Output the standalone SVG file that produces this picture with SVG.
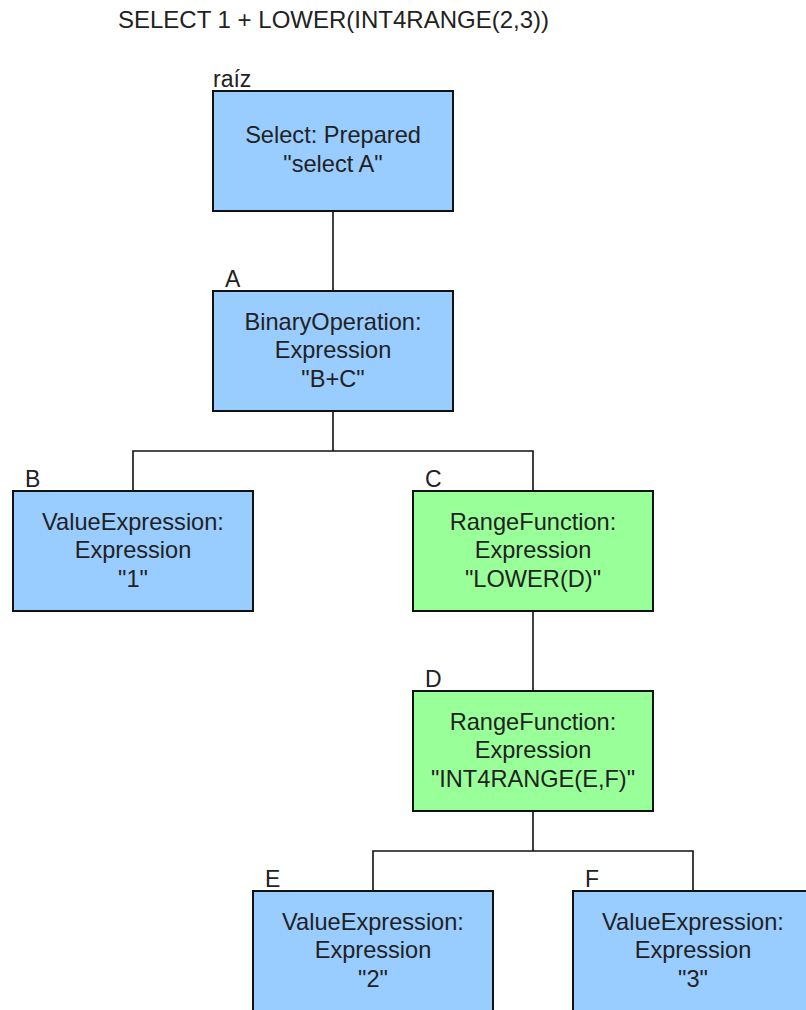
<svg xmlns="http://www.w3.org/2000/svg" width="806" height="1010" viewBox="0 0 806 1010">
<style>
text{font-family:"Liberation Sans",Arial,sans-serif;fill:#222}
.box{stroke:#111;stroke-width:2}
.blue{fill:#99CCFF}
.green{fill:#99FF99}
.t{font-size:23.6px;text-anchor:middle}
.lbl{font-size:23px}
.title{font-size:24px}
.conn{fill:none;stroke:#111;stroke-width:1.6}
</style>
<rect width="806" height="1010" fill="#fff"/>
<text class="title" x="118" y="28">SELECT 1 + LOWER(INT4RANGE(2,3))</text>
<g id="connectors">
<path class="conn" d="M333 211V291"/>
<path class="conn" d="M333 411V451H133V491M333 451H533V491"/>
<path class="conn" d="M533 611V691"/>
<path class="conn" d="M533 811V851H373V891M533 851H693V891"/>
</g>
<g id="root">
<rect class="box blue" x="213" y="91" width="240" height="120"/>
<text class="lbl" x="213" y="87">raíz</text>
<text class="t" x="333" y="143">Select: Prepared</text>
<text class="t" x="333" y="172">"select A"</text>
</g>
<g id="A">
<rect class="box blue" x="213" y="291" width="240" height="120"/>
<text class="lbl" x="225" y="287">A</text>
<text class="t" x="333" y="330">BinaryOperation:</text>
<text class="t" x="333" y="358">Expression</text>
<text class="t" x="333" y="387">"B+C"</text>
</g>
<g id="B">
<rect class="box blue" x="13" y="491" width="240" height="120"/>
<text class="lbl" x="25" y="487">B</text>
<text class="t" x="133" y="530">ValueExpression:</text>
<text class="t" x="133" y="558">Expression</text>
<text class="t" x="133" y="587">"1"</text>
</g>
<g id="C">
<rect class="box green" x="413" y="491" width="240" height="120"/>
<text class="lbl" x="425" y="487">C</text>
<text class="t" x="533" y="530">RangeFunction:</text>
<text class="t" x="533" y="558">Expression</text>
<text class="t" x="533" y="587">"LOWER(D)"</text>
</g>
<g id="D">
<rect class="box green" x="413" y="691" width="240" height="120"/>
<text class="lbl" x="425" y="687">D</text>
<text class="t" x="533" y="730">RangeFunction:</text>
<text class="t" x="533" y="758">Expression</text>
<text class="t" x="533" y="787">"INT4RANGE(E,F)"</text>
</g>
<g id="E">
<rect class="box blue" x="253" y="891" width="240" height="130"/>
<text class="lbl" x="265" y="887">E</text>
<text class="t" x="373" y="930">ValueExpression:</text>
<text class="t" x="373" y="958">Expression</text>
<text class="t" x="373" y="987">"2"</text>
</g>
<g id="F">
<rect class="box blue" x="573" y="891" width="240" height="130"/>
<text class="lbl" x="585" y="887">F</text>
<text class="t" x="693" y="930">ValueExpression:</text>
<text class="t" x="693" y="958">Expression</text>
<text class="t" x="693" y="987">"3"</text>
</g>
</svg>
